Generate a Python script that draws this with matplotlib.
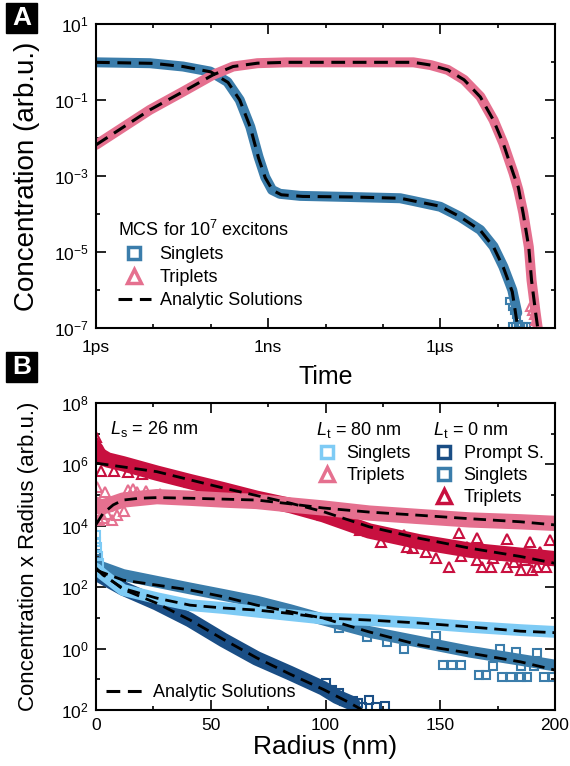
import matplotlib
matplotlib.use('Agg')
import matplotlib.pyplot as plt
from matplotlib.lines import Line2D
from matplotlib.patches import Rectangle
from matplotlib.ticker import FixedLocator, FixedFormatter, NullFormatter

plt.rcParams['font.family'] = ['Liberation Sans', 'DejaVu Sans']
plt.rcParams['mathtext.fontset'] = 'custom'
plt.rcParams['mathtext.rm'] = 'Liberation Sans'
plt.rcParams['mathtext.it'] = 'Liberation Sans:italic'
plt.rcParams['mathtext.bf'] = 'Liberation Sans:bold'

c_sing = '#3b7dab'
c_trip = '#e5708f'
c_trip0 = '#c8103f'
c_sing80 = '#7ecbf5'
c_prompt = '#1a4e85'

# ---------- panel A : concentration vs time
s_time = [1e-12, 8.7e-12, 3.3e-11, 9.8e-11, 1.95e-10, 3.2e-10, 4.9e-10, 6.8e-10,
          8.9e-10, 1.17e-9, 1.6e-9, 3.6e-9, 2.7e-8, 2.0e-7, 3.4e-7, 1.0e-6, 2.2e-6,
          5.0e-6, 8.5e-6, 1.26e-5, 1.8e-5, 2.2e-5]
s_conc = [0.98, 0.93, 0.76, 0.56, 0.30, 0.10, 1.95e-2, 3.2e-3, 9.3e-4, 4.3e-4, 3.4e-4,
          3.0e-4, 2.8e-4, 2.6e-4, 2.2e-4, 1.55e-4, 8.5e-5, 3.8e-5, 1.4e-5, 4.1e-6,
          1.0e-6, 2.5e-7]
s_tail_time = [1.6e-5, 1.75e-5, 1.9e-5, 2.05e-5, 2.2e-5, 2.4e-5, 1.8e-5, 2.0e-5,
               2.3e-5, 2.6e-5, 2.9e-5, 3.3e-5]
s_tail_conc = [5e-7, 3.5e-7, 2.8e-7, 2.2e-7, 1.7e-7, 1.3e-7, 1.1e-7, 1.1e-7,
               1.1e-7, 1.1e-7, 1.1e-7, 1.1e-7]
s_fit_time = [1e-12, 1e-11, 3.3e-11, 1e-10, 2e-10, 3.2e-10, 4.9e-10, 6.8e-10, 8.9e-10,
              1.2e-9, 1.7e-9, 4e-9, 3e-8, 2e-7, 1e-6, 2.2e-6, 5e-6, 8.5e-6, 1.26e-5,
              1.8e-5, 2.25e-5]
s_fit_conc = [0.98, 0.92, 0.76, 0.55, 0.29, 0.10, 1.9e-2, 3.0e-3, 9e-4, 4.2e-4, 3.2e-4,
              2.9e-4, 2.8e-4, 2.6e-4, 1.6e-4, 8.5e-5, 3.7e-5, 1.35e-5, 3.9e-6, 9e-7, 1e-7]

t_time = [1e-12, 8.7e-12, 3.3e-11, 1.1e-10, 2.45e-10, 6.5e-10, 2.1e-9, 3.4e-7, 6.8e-7,
          1.35e-6, 2.6e-6, 5.0e-6, 8.5e-6, 1.26e-5, 1.9e-5, 2.3e-5, 2.8e-5, 3.5e-5,
          3.9e-5, 4.6e-5, 5.0e-5]
t_conc = [6.6e-3, 5.5e-2, 0.166, 0.46, 0.76, 0.93, 0.98, 0.98, 0.83, 0.62, 0.34, 0.123,
          2.95e-2, 7.2e-3, 1.17e-3, 4.3e-4, 1.07e-4, 1.35e-5, 1.8e-6, 2.5e-7, 1e-7]
t_tail_time = [3.7e-5, 4.0e-5, 4.3e-5, 4.5e-5]
t_tail_conc = [3.5e-7, 2.8e-7, 2.2e-7, 1.5e-7]
t_fit_time = [1e-12, 8.7e-12, 3.3e-11, 1.1e-10, 2.45e-10, 6.5e-10, 2.1e-9, 3.4e-7, 6.8e-7,
              1.35e-6, 2.6e-6, 5.0e-6, 8.5e-6, 1.26e-5, 1.9e-5, 2.3e-5, 2.8e-5, 3.5e-5,
              3.9e-5, 4.6e-5, 5.0e-5]
t_fit_conc = [6.6e-3, 5.5e-2, 0.166, 0.46, 0.76, 0.93, 0.98, 0.98, 0.83, 0.62, 0.34, 0.12,
              2.9e-2, 7.0e-3, 1.1e-3, 5e-4, 1.0e-4, 1.3e-5, 1.8e-6, 2.5e-7, 1e-7]

# ---------- panel B : concentration x radius vs radius
trip0_r = [0, 1.5, 5, 11.8, 26.5, 41, 55.5, 70, 84.5, 99, 119, 141, 163, 185, 200]
trip0_v = [3.2e6, 2.0e6, 1.4e6, 1.05e6, 5.2e5, 2.75e5, 1.5e5, 7.9e4, 4.6e4, 2.3e4,
           6.8e3, 3.0e3, 1.6e3, 1.1e3, 8.5e2]
trip0_sc_r = [0, 0.5, 1, 2, 8, 14, 20, 115, 124, 134, 135.5, 138, 144, 148, 154, 158,
              159, 161.6, 166, 166, 168, 172, 173, 178, 179, 179, 182, 185, 187, 189,
              190, 192, 193.5, 196, 198, 198]
trip0_sc_v = [8e6, 5e6, 4e6, 6e5, 6e5, 5.5e5, 5e5, 7.2e3, 3e3, 5e3, 2.1e3, 1.9e3, 1.45e3,
              8.7e2, 4.5e2, 5.9e3, 1.0e3, 2.1e3, 4e3, 7.8e2, 4.5e2, 4.4e2, 8.7e2, 1.1e3,
              4.4e2, 3.7e3, 6.8e2, 3.6e2, 7.8e2, 3e3, 3.7e2, 4.4e2, 1.45e3, 4.4e2, 3.5e3,
              7.8e2]
trip80_r = [0, 2, 4.6, 11.8, 26.5, 41, 55.5, 70, 84.5, 99, 119, 141, 163, 185, 200]
trip80_v = [5e4, 4e4, 4.5e4, 6.9e4, 8.9e4, 7.9e4, 6.9e4, 6.2e4, 4.8e4, 3.8e4, 2.6e4,
            2.0e4, 1.55e4, 1.35e4, 1.2e4]
trip80_sc_r = [0.5, 1, 1.5, 3, 4, 5, 7, 9, 12, 14, 16, 18, 22, 28]
trip80_sc_v = [1.8e5, 3e4, 1.6e4, 1.8e4, 1.3e5, 2.5e4, 1.6e4, 2.2e4, 3e4, 1.5e5, 1.6e5,
               1.3e5, 1.4e5, 1.1e5]
sing80_r = [0, 3, 11.8, 26.5, 41, 55.5, 70, 84.5, 99, 119, 141, 163, 185, 200]
sing80_v = [4e2, 2.6e2, 81, 44, 26, 21, 16, 12.3, 9.5, 8.5, 6.8, 5.1, 4.0, 3.5]
sing80_sc_r = [0, 0, 0.5, 0.8, 1.5]
sing80_sc_v = [5e3, 3e3, 2e3, 1e3, 6e2]
sing0_r = [0, 11.8, 26.5, 41, 55.5, 70, 84.5, 99, 119, 141, 163, 185, 200]
sing0_v = [5.2e2, 2.5e2, 1.5e2, 91, 56, 34, 18, 8.9, 3.5, 1.66, 0.79, 0.43, 0.28]
sing0_sc_r = [0, 0.5, 106, 118, 127, 134, 148, 151, 155, 159, 167, 170, 173, 176, 177,
              181, 183, 185, 188, 192, 195, 199, 185, 191]
sing0_sc_v = [1.2e3, 8e2, 4.7, 2.4, 1.7, 1.0, 2.5, 0.3, 0.3, 0.3, 0.14, 0.14, 0.28, 1.0,
              0.12, 0.12, 0.8, 0.28, 0.12, 0.7, 0.12, 0.12, 0.12, 0.28]
prompt_r = [0, 11.8, 26.5, 41, 55.5, 70, 84.5, 99, 105, 112]
prompt_v = [2.8e2, 91, 30, 8.5, 1.9, 0.48, 0.16, 0.051, 0.027, 0.016]
prompt_sc_r = [100, 103, 106, 108, 112, 114, 116, 119, 122, 126]
prompt_sc_v = [0.075, 0.045, 0.035, 0.02, 0.02, 0.017, 0.013, 0.021, 0.013, 0.014]

fit_trip0_r = [0, 26.5, 55.5, 84.5, 99, 119, 141, 163, 185, 200]
fit_trip0_v = [1.1e6, 5.8e5, 1.7e5, 5.5e4, 2.9e4, 9.3e3, 3.9e3, 1.86e3, 1.0e3, 6.0e2]
fit_trip80_r = [0, 3, 7.5, 11.8, 19, 26.5, 41, 55.5, 70, 84.5, 99, 119, 141, 163, 185, 200]
fit_trip80_v = [1.1e4, 2.5e4, 4.8e4, 6.9e4, 7.9e4, 8.3e4, 7.9e4, 7.4e4, 6.9e4, 5.2e4,
                3.8e4, 2.8e4, 2.2e4, 1.7e4, 1.35e4, 1.07e4]
fit_sing80_r = [0, 3, 11.8, 26.5, 41, 55.5, 70, 84.5, 99, 119, 141, 163, 185, 200]
fit_sing80_v = [4.2e2, 2.5e2, 91, 44, 26, 21, 18, 14, 10, 8.5, 6.8, 5.1, 3.7, 3.3]
fit_sing0_r = [0, 11.8, 26.5, 41, 55.5, 70, 84.5, 99, 119, 141, 163, 185, 200]
fit_sing0_v = [3.6e2, 1.7e2, 1.17e2, 81, 49, 26, 16, 9.8, 3.5, 1.3, 0.71, 0.37, 0.2]
fit_prompt_r = [0, 11.8, 26.5, 41, 55.5, 70, 84.5, 99, 110, 116]
fit_prompt_v = [4e2, 85, 30, 8.5, 2.0, 0.5, 0.148, 0.047, 0.018, 0.01]

dash = (4.5, 2.5)

fig = plt.figure(figsize=(5.7, 7.66), dpi=100)
W, H = 570, 766


def fx(px):
    return px / W


def fy(py):
    return 1 - py / H


axA = fig.add_axes([fx(96), fy(328), 459 / W, 304 / H])
axB = fig.add_axes([fx(96), fy(710), 459 / W, 307 / H])


def style(ax):
    for sp in ax.spines.values():
        sp.set_linewidth(1.5)
    ax.tick_params(which='both', direction='in', top=True, right=True, width=1.2,
                   labelsize=12.5)
    ax.tick_params(which='major', length=7)
    ax.tick_params(which='minor', length=3)


def band(ax, x, y, color, lw, marker=None, ms=0):
    ax.plot(x, y, color=color, lw=lw, solid_capstyle='round', zorder=2)
    if marker:
        ax.plot(x, y, ls='none', marker=marker, ms=ms, mfc='none', mec=color, mew=1.5,
                zorder=2)


# ---- panel A
band(axA, s_time, s_conc, c_sing, 7.2)
axA.plot(s_tail_time, s_tail_conc, ls='none', marker='s', ms=5, mfc='none', mec=c_sing,
         mew=1.5, zorder=2)
band(axA, t_time, t_conc, c_trip, 7.2)
axA.plot(t_tail_time, t_tail_conc, ls='none', marker='^', ms=6, mfc='none', mec=c_trip,
         mew=1.5, zorder=2)
axA.plot(s_fit_time, s_fit_conc, color='black', lw=2.2, dashes=dash, zorder=3)
axA.plot(t_fit_time, t_fit_conc, color='black', lw=2.2, dashes=dash, zorder=3)

axA.set_xscale('log')
axA.set_yscale('log')
axA.set_xlim(1e-12, 1e-4)
axA.set_ylim(1e-7, 1e1)
style(axA)
axA.xaxis.set_major_locator(FixedLocator([1e-12, 1e-9, 1e-6]))
axA.xaxis.set_major_formatter(FixedFormatter(['1ps', '1ns', '1µs']))
axA.xaxis.set_minor_locator(FixedLocator([1e-11, 1e-10, 1e-8, 1e-7, 1e-5, 1e-4]))
axA.xaxis.set_minor_formatter(NullFormatter())
axA.yaxis.set_major_locator(FixedLocator([1e1, 1e-1, 1e-3, 1e-5, 1e-7]))
axA.yaxis.set_major_formatter(FixedFormatter(['10$^{1}$', '10$^{-1}$', '10$^{-3}$',
                                              '10$^{-5}$', '10$^{-7}$']))
axA.yaxis.set_minor_locator(FixedLocator([1e0, 1e-2, 1e-4, 1e-6]))
axA.yaxis.set_minor_formatter(NullFormatter())
axA.tick_params(axis='x', pad=9)
axA.tick_params(axis='y', pad=5)
axA.set_xlabel('Time', fontsize=18)
axA.xaxis.set_label_coords(0.5, -0.122)
axA.set_ylabel('Concentration (arb.u.)', fontsize=20)
axA.yaxis.set_label_coords(-0.122, 0.5)

hA = [Line2D([], [], ls='none', marker='s', ms=8, mfc='white', mec=c_sing, mew=2.5),
      Line2D([], [], ls='none', marker='^', ms=10, mfc='white', mec=c_trip, mew=2.5),
      Line2D([], [], color='black', lw=2.2, dashes=dash)]
legA = axA.legend(hA, ['Singlets', 'Triplets', 'Analytic Solutions'],
                  title='MCS for 10$^{7}$ excitons', alignment='left',
                  loc='upper left', bbox_to_anchor=(fx(118), fy(220)),
                  bbox_transform=fig.transFigure, frameon=False, fontsize=13,
                  title_fontsize=13, handlelength=1.8, handletextpad=0.5,
                  labelspacing=0.33, borderpad=0, borderaxespad=0)

# ---- panel B
band(axB, trip0_r, trip0_v, c_trip0, 11, '^', 7)
axB.plot(trip0_sc_r, trip0_sc_v, ls='none', marker='^', ms=7.5, mfc='none', mec=c_trip0,
         mew=1.5, zorder=2)
band(axB, trip80_r, trip80_v, c_trip, 11, '^', 7)
axB.plot(trip80_sc_r, trip80_sc_v, ls='none', marker='^', ms=7.5, mfc='none', mec=c_trip,
         mew=1.5, zorder=2)
band(axB, prompt_r, prompt_v, c_prompt, 10.5, 's', 5)
axB.plot(prompt_sc_r, prompt_sc_v, ls='none', marker='s', ms=6, mfc='none', mec=c_prompt,
         mew=1.5, zorder=2)
band(axB, sing0_r, sing0_v, c_sing, 8.5, 's', 5)
axB.plot(sing0_sc_r, sing0_sc_v, ls='none', marker='s', ms=6, mfc='none', mec=c_sing,
         mew=1.5, zorder=2)
band(axB, sing80_r, sing80_v, c_sing80, 8.5, 's', 5)
axB.plot(sing80_sc_r, sing80_sc_v, ls='none', marker='s', ms=6, mfc='none', mec=c_sing80,
         mew=1.5, zorder=2)
for rr, vv in [(fit_trip0_r, fit_trip0_v), (fit_trip80_r, fit_trip80_v),
               (fit_sing80_r, fit_sing80_v), (fit_sing0_r, fit_sing0_v),
               (fit_prompt_r, fit_prompt_v)]:
    axB.plot(rr, vv, color='black', lw=2.0, dashes=dash, zorder=3)

axB.set_yscale('log')
axB.set_xlim(0, 200)
axB.set_ylim(1e-2, 1e8)
style(axB)
axB.xaxis.set_major_locator(FixedLocator([0, 50, 100, 150, 200]))
axB.xaxis.set_minor_locator(FixedLocator([25, 75, 125, 175]))
axB.yaxis.set_major_locator(FixedLocator([1e8, 1e6, 1e4, 1e2, 1e0, 1e-2]))
axB.yaxis.set_major_formatter(FixedFormatter(['10$^{8}$', '10$^{6}$', '10$^{4}$',
                                              '10$^{2}$', '10$^{0}$', '10$^{2}$']))
axB.yaxis.set_minor_locator(FixedLocator([1e7, 1e5, 1e3, 1e1, 1e-1]))
axB.yaxis.set_minor_formatter(NullFormatter())
axB.tick_params(axis='x', pad=6)
axB.tick_params(axis='y', pad=5)
axB.set_xlabel('Radius (nm)', fontsize=19)
axB.xaxis.set_label_coords(0.5, -0.08)
axB.set_ylabel('Concentration x Radius (arb.u.)', fontsize=16)
axB.yaxis.set_label_coords(-0.125, 0.5)

axB.text(fx(110), fy(429), '$L_\\mathrm{s}$ = 26 nm', transform=fig.transFigure,
         fontsize=13, va='center', ha='left')

h80 = [Line2D([], [], ls='none', marker='s', ms=8, mfc='white', mec=c_sing80, mew=2.5),
       Line2D([], [], ls='none', marker='^', ms=10, mfc='white', mec=c_trip, mew=2.5)]
leg80 = axB.legend(h80, ['Singlets', 'Triplets'], title='$L_\\mathrm{t}$ = 80 nm',
                   alignment='left', loc='upper left', bbox_to_anchor=(fx(316), fy(420)),
                   bbox_transform=fig.transFigure, frameon=False, fontsize=13,
                   title_fontsize=13, handlelength=1.2, handletextpad=0.5,
                   labelspacing=0.28, borderpad=0, borderaxespad=0)
axB.add_artist(leg80)
h0 = [Line2D([], [], ls='none', marker='s', ms=8, mfc='white', mec=c_prompt, mew=2.5),
      Line2D([], [], ls='none', marker='s', ms=8, mfc='white', mec=c_sing, mew=2.5),
      Line2D([], [], ls='none', marker='^', ms=10, mfc='white', mec=c_trip0, mew=2.5)]
leg0 = axB.legend(h0, ['Prompt S.', 'Singlets', 'Triplets'], title='$L_\\mathrm{t}$ = 0 nm',
                  alignment='left', loc='upper left', bbox_to_anchor=(fx(433), fy(420)),
                  bbox_transform=fig.transFigure, frameon=False, fontsize=13,
                  title_fontsize=13, handlelength=1.2, handletextpad=0.5,
                  labelspacing=0.28, borderpad=0, borderaxespad=0)
axB.add_artist(leg0)
axB.legend([Line2D([], [], color='black', lw=2.2, dashes=dash)], ['Analytic Solutions'],
           loc='lower left', bbox_to_anchor=(fx(106), fy(701)),
           bbox_transform=fig.transFigure, frameon=False, fontsize=13,
           handlelength=2.0, handletextpad=0.6, borderpad=0, borderaxespad=0)

# panel letters
for lab, top in [('A', 3), ('B', 352)]:
    fig.patches.append(Rectangle((fx(6), fy(top + 30)), 31 / W, 30 / H,
                                 transform=fig.transFigure, color='black'))
    fig.text(fx(21.5), fy(top + 15), lab, color='white', fontsize=19, fontweight='bold',
             ha='center', va='center')

plt.savefig('out.png', dpi=100)
